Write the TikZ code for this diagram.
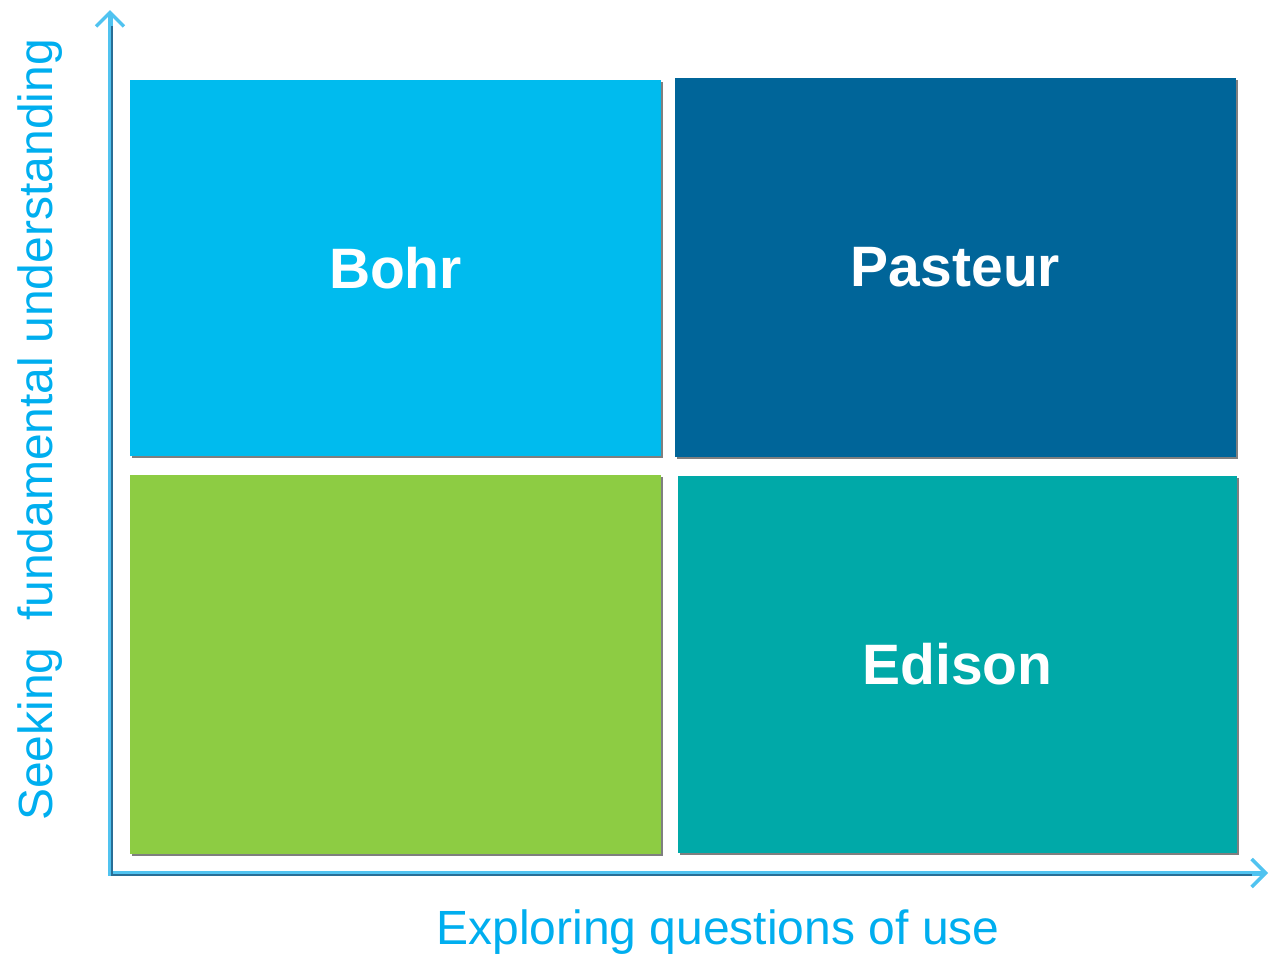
\documentclass[tikz,border=0pt]{standalone}
\usepackage{fontspec}
\setmainfont{Liberation Sans}
\usetikzlibrary{arrows.meta,shadows}
\definecolor{bohrc}{RGB}{0,187,238}
\definecolor{pasteurc}{RGB}{0,101,153}
\definecolor{greenc}{RGB}{141,204,67}
\definecolor{edisonc}{RGB}{0,169,168}
\definecolor{axisc}{RGB}{80,195,240}
\definecolor{axisdark}{RGB}{40,110,150}
\definecolor{labelc}{RGB}{0,174,239}
\begin{document}
\begin{tikzpicture}[x=1pt,y=-1pt,
  quad/.style={rectangle,inner sep=0pt,text=white,font=\bfseries\fontsize{57}{60}\selectfont,
    drop shadow={shadow xshift=2pt,shadow yshift=-2pt,fill=black,opacity=0.5}},
  axisline/.style={draw=axisc,line width=5pt,{Straight Barb[length=14pt,width=28pt,line width=3.5pt]}-{Straight Barb[length=14pt,width=28pt,line width=3.5pt]}},
  axisthin/.style={draw=axisdark,line width=1.2pt},
  axlabel/.style={text=labelc,font=\fontsize{48}{50}\selectfont,inner sep=0pt}]
\useasboundingbox (0,0) rectangle (1273,959);
\node[quad,fill=bohrc,minimum width=531pt,minimum height=376pt] (bohr) at (395.5,268) {Bohr};
\node[quad,fill=pasteurc,minimum width=561pt,minimum height=379pt] (pasteur) at (955.5,267.5) {Pasteur};
\node[quad,fill=greenc,minimum width=531pt,minimum height=379pt] (green) at (395.5,664.5) {};
\node[quad,fill=edisonc,minimum width=559pt,minimum height=377pt] (edison) at (957.5,664.5) {Edison};
\coordinate (ytop) at (110,10);
\coordinate (origin) at (110,873);
\coordinate (xend) at (1268,873);
\draw[axisline] (ytop) -- (origin) -- (xend);
\draw[axisthin] ([xshift=2pt,yshift=-16pt]ytop) -- ([xshift=2pt,yshift=-2pt]origin) -- ([xshift=-16pt,yshift=-2pt]xend);
\node[axlabel] (xlab) at (718,932) {Exploring questions of use};
\node[axlabel,rotate=90] (ylab) at (40,430) {Seeking\ \ fundamental understanding};
\end{tikzpicture}
\end{document}
